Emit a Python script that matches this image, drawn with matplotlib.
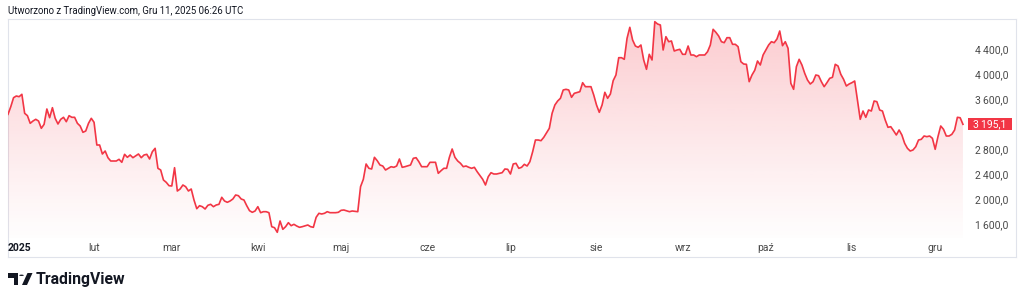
import numpy as np
import pandas as pd
import matplotlib
matplotlib.use('Agg')
import matplotlib.pyplot as plt
import matplotlib.dates as mdates
import matplotlib.transforms as mtransforms
from matplotlib.colors import to_rgb
from matplotlib.patches import Rectangle, Polygon, Circle

# dzienne zamknięcia (dzień roku liczony od 1 stycznia 2025)
day_of_year = [
    0, 1, 2, 3, 4, 5, 6, 7, 8, 9, 10, 11, 12, 13, 14, 15, 16, 17, 18, 19, 20, 21, 22, 23, 24, 25, 26, 27, 28, 29, 30,  # sty
    31, 32, 33, 34, 35, 36, 37, 39, 40, 41, 42, 43, 44, 45, 47, 48, 49, 50, 51, 52, 53, 54, 55, 56, 57, 58,  # lut
    59, 60, 61, 62, 63, 64, 65, 66, 67, 68, 69, 70, 71, 72, 73, 74, 75, 76, 77, 78, 79, 80, 81, 82, 83, 84, 85, 86, 87, 88, 89,  # mar
    90, 91, 92, 93, 94, 95, 96, 97, 98, 99, 100, 101, 102, 103, 104, 105, 106, 108, 109, 110, 111, 112, 113, 114, 115, 116, 118, 119,  # kwi
    120, 121, 123, 124, 126, 127, 128, 129, 130, 131, 132, 133, 134, 135, 136, 137, 138, 139, 140, 141, 142, 143, 145, 146, 147, 148, 149,  # maj
    151, 152, 153, 154, 155, 156, 157, 158, 159, 160, 161, 162, 163, 164, 165, 166, 167, 168, 169, 171, 172, 173, 174, 175, 176, 178, 179, 180,  # cze
    181, 182, 183, 184, 185, 186, 187, 188, 189, 190, 191, 192, 193, 195, 196, 197, 198, 199, 200, 201, 202, 203, 204, 206, 207, 208, 210, 211,  # lip
    212, 213, 214, 215, 216, 217, 218, 219, 220, 221, 222, 223, 224, 225, 226, 227, 228, 229, 230, 231, 232, 233, 234, 235, 236, 237, 238, 239, 240, 241, 242,  # sie
    243, 244, 245, 246, 247, 248, 249, 251, 252, 253, 254, 255, 256, 257, 258, 259, 260, 261, 262, 263, 264, 265, 266, 267, 268, 269, 270, 271, 272,  # wrz
    274, 275, 276, 277, 278, 279, 280, 281, 282, 283, 284, 285, 286, 287, 288, 289, 290, 291, 292, 293, 294, 295, 296, 297, 298, 299, 300, 301, 302, 303,  # paź
    304, 305, 306, 307, 308, 309, 310, 311, 312, 313, 314, 315, 316, 317, 318, 319, 320, 321, 322, 323, 324, 325, 326, 327, 328, 329, 330, 331, 332, 333,  # lis
    334, 335, 336, 337, 338, 339, 340, 341, 342, 343, 344,  # gru
]
close = [
    3355, 3477, 3621, 3648, 3637, 3675, 3371, 3333, 3211, 3248, 3275, 3248, 3131, 3195, 3440, 3301, 3461, 3291, 3200, 3275, 3307, 3237, 3333, 3307, 3307, 3211, 3168, 3067, 3088, 3211, 3291,
    3227, 2864, 2864, 2720, 2768, 2661, 2608, 2608, 2635, 2587, 2715, 2667, 2704, 2661, 2720, 2661, 2704, 2715, 2640, 2757, 2811, 2491, 2464, 2304, 2267, 2213,
    2208, 2501, 2128, 2160, 2224, 2197, 2128, 2160, 1984, 1845, 1893, 1877, 1840, 1899, 1915, 1877, 1904, 1915, 2027, 1968, 1947, 1968, 2000, 2064, 2053, 2000, 1984, 1893, 1813, 1787, 1808,
    1877, 1781, 1797, 1797, 1781, 1557, 1541, 1467, 1648, 1515, 1557, 1621, 1573, 1595, 1568, 1547, 1557, 1584, 1557, 1547, 1707, 1771, 1760, 1771, 1797, 1781, 1781, 1787,
    1819, 1824, 1797, 1808, 1797, 2197, 2315, 2560, 2491, 2480, 2667, 2613, 2544, 2528, 2464, 2491, 2517, 2507, 2528, 2640, 2507, 2517, 2544, 2651, 2661, 2597, 2517,
    2517, 2587, 2587, 2587, 2411, 2453, 2491, 2491, 2667, 2800, 2667, 2608, 2571, 2517, 2528, 2507, 2491, 2507, 2437, 2315, 2224, 2357, 2421, 2400, 2400, 2421, 2480, 2475,
    2400, 2560, 2571, 2491, 2507, 2555, 2528, 2597, 2757, 2944, 2944, 2933, 2987, 3131, 3371, 3504, 3568, 3611, 3744, 3755, 3744, 3627, 3691, 3717, 3861, 3797, 3797, 3664,
    3504, 3387, 3504, 3707, 3611, 3680, 3893, 3984, 4261, 4261, 4235, 4571, 4747, 4544, 4448, 4427, 4464, 4224, 4075, 4315, 4224, 4837, 4800, 4784, 4384, 4597, 4517, 4528, 4368, 4384, 4395,
    4315, 4315, 4448, 4304, 4304, 4277, 4304, 4304, 4357, 4464, 4715, 4667, 4608, 4517, 4501, 4581, 4581, 4475, 4475, 4437, 4197, 4160, 4155, 3877, 3984, 4060, 4208, 4144, 4304,
    4464, 4517, 4501, 4560, 4688, 4453, 4517, 4411, 3851, 3755, 4117, 4235, 4144, 4011, 3904, 3840, 3877, 3984, 3973, 3877, 3797, 3861, 3931, 3947, 4155, 4128, 3995, 3915, 3808, 3840,
    3861, 3888, 3584, 3275, 3408, 3307, 3424, 3408, 3568, 3557, 3424, 3408, 3264, 3147, 3157, 3093, 3024, 3104, 3024, 2891, 2811, 2768, 2784, 2837, 2944, 2955, 3008, 2997, 3008, 2971,
    2795, 2997, 3168, 3115, 3008, 3008, 3035, 3104, 3307, 3300, 3195.1,
]
last_price = 3195.1
price_ticks = [1600, 2000, 2400, 2800, 3600, 4000, 4400]
month_starts = ['2025-01-01', '2025-02-01', '2025-03-01', '2025-04-01', '2025-05-01', '2025-06-01',
                '2025-07-01', '2025-08-01', '2025-09-01', '2025-10-01', '2025-11-01', '2025-12-01']
month_labels = ['2025', 'lut', 'mar', 'kwi', 'maj', 'cze', 'lip', 'sie', 'wrz', 'paź', 'lis', 'gru']
header = 'Utworzono z TradingView.com, Gru 11, 2025 06:26 UTC'

RED = '#F23645'
W, H = 1024, 302

plt.rcParams['font.family'] = ['Roboto', 'DejaVu Sans']


def fx(px):
    return px / W


def fy(py):
    return 1 - py / H


def fmt_price(v):
    return f'{v:,.1f}'.replace(',', '\u2009').replace('.', ',')


dates = pd.Timestamp('2025-01-01') + pd.to_timedelta(day_of_year, unit='D')
x = mdates.date2num(dates)
x0 = mdates.date2num(pd.Timestamp('2025-01-01'))

fig = plt.figure(figsize=(W / 100, H / 100), dpi=100)
fig.patch.set_facecolor('white')

# ramka wykresu
frame = fig.add_axes([fx(8), fy(257), fx(1016 - 8), (257 - 19) / H])
frame.set_xticks([])
frame.set_yticks([])
for s in frame.spines.values():
    s.set_color('#e0e3eb')
    s.set_linewidth(0.8)

ax = fig.add_axes([fx(8), fy(238), fx(966 - 8), (238 - 19) / H])
ax.patch.set_alpha(0)
ymin, ymax = 1376, 4880

# wypełnienie gradientem pod linią
poly = ax.fill_between(x, close, ymin, color='none', lw=0)
grad = np.linspace(0, 1, 256).reshape(-1, 1)
rgba = np.zeros((256, 1, 4))
rgba[..., :3] = to_rgb(RED)
rgba[..., 3] = 0.01 + 0.25 * grad[..., 0][:, None] ** 1.1
im = ax.imshow(rgba, extent=[x[0], x[-1], ymin, max(close)], origin='lower',
               aspect='auto', zorder=1, interpolation='bilinear')
im.set_clip_path(poly.get_paths()[0], transform=ax.transData)

ax.plot(x, close, color=RED, lw=1.2, zorder=2, solid_joinstyle='round')

ax.set_xlim(x0, x0 + (966 - 8) / 2.776)
ax.set_ylim(ymin, ymax)
for s in ax.spines.values():
    s.set_visible(False)

ax.set_xticks(mdates.date2num(pd.to_datetime(month_starts)), month_labels)
ax.tick_params(axis='x', length=0, pad=3.5, labelsize=7.5, labelcolor='#4a4a4a')
first = ax.get_xticklabels()[0]
first.set_ha('left')
first.set_fontweight('bold')
first.set_color('#131722')

ax.yaxis.tick_right()
ax.set_yticks(price_ticks, [fmt_price(v) for v in price_ticks])
ax.tick_params(axis='y', length=0, pad=6.5, labelsize=7.5, labelcolor='#4a4a4a')

# etykieta ostatniej ceny
blend = mtransforms.blended_transform_factory(ax.transAxes, ax.transData)
px_per_unit = (ymax - ymin) / 219
ax.add_patch(Rectangle((1 + 2 / 958, last_price - 6 * px_per_unit), 44 / 958, 12 * px_per_unit,
                       transform=blend, facecolor=RED, edgecolor='none', clip_on=False, zorder=3))
ax.text(1 + 24 / 958, last_price, fmt_price(last_price), transform=blend, ha='center', va='center',
        color='white', fontsize=7.5, zorder=4, clip_on=False)

fig.text(fx(8), fy(11), header, fontsize=6.9, color='#131722', va='center')

# logo TradingView
fig.patches.append(Polygon([(fx(8), fy(273)), (fx(18), fy(273)), (fx(18), fy(285)), (fx(13.5), fy(285)),
                            (fx(13.5), fy(277.5)), (fx(8), fy(277.5))], closed=True,
                           transform=fig.transFigure, facecolor='#131722', edgecolor='none'))
fig.patches.append(Circle((fx(21.5), fy(275.3)), 2.3 / W, transform=fig.transFigure,
                          facecolor='#131722', edgecolor='none'))
fig.patches.append(Polygon([(fx(22), fy(285)), (fx(27.5), fy(273)), (fx(32.5), fy(273)), (fx(27), fy(285))],
                           closed=True, transform=fig.transFigure, facecolor='#131722', edgecolor='none'))
fig.text(fx(36), fy(279.5), 'TradingView', fontsize=11.3, fontweight='bold', color='#131722', va='center')

fig.savefig('out.png', dpi=100, facecolor='white')
